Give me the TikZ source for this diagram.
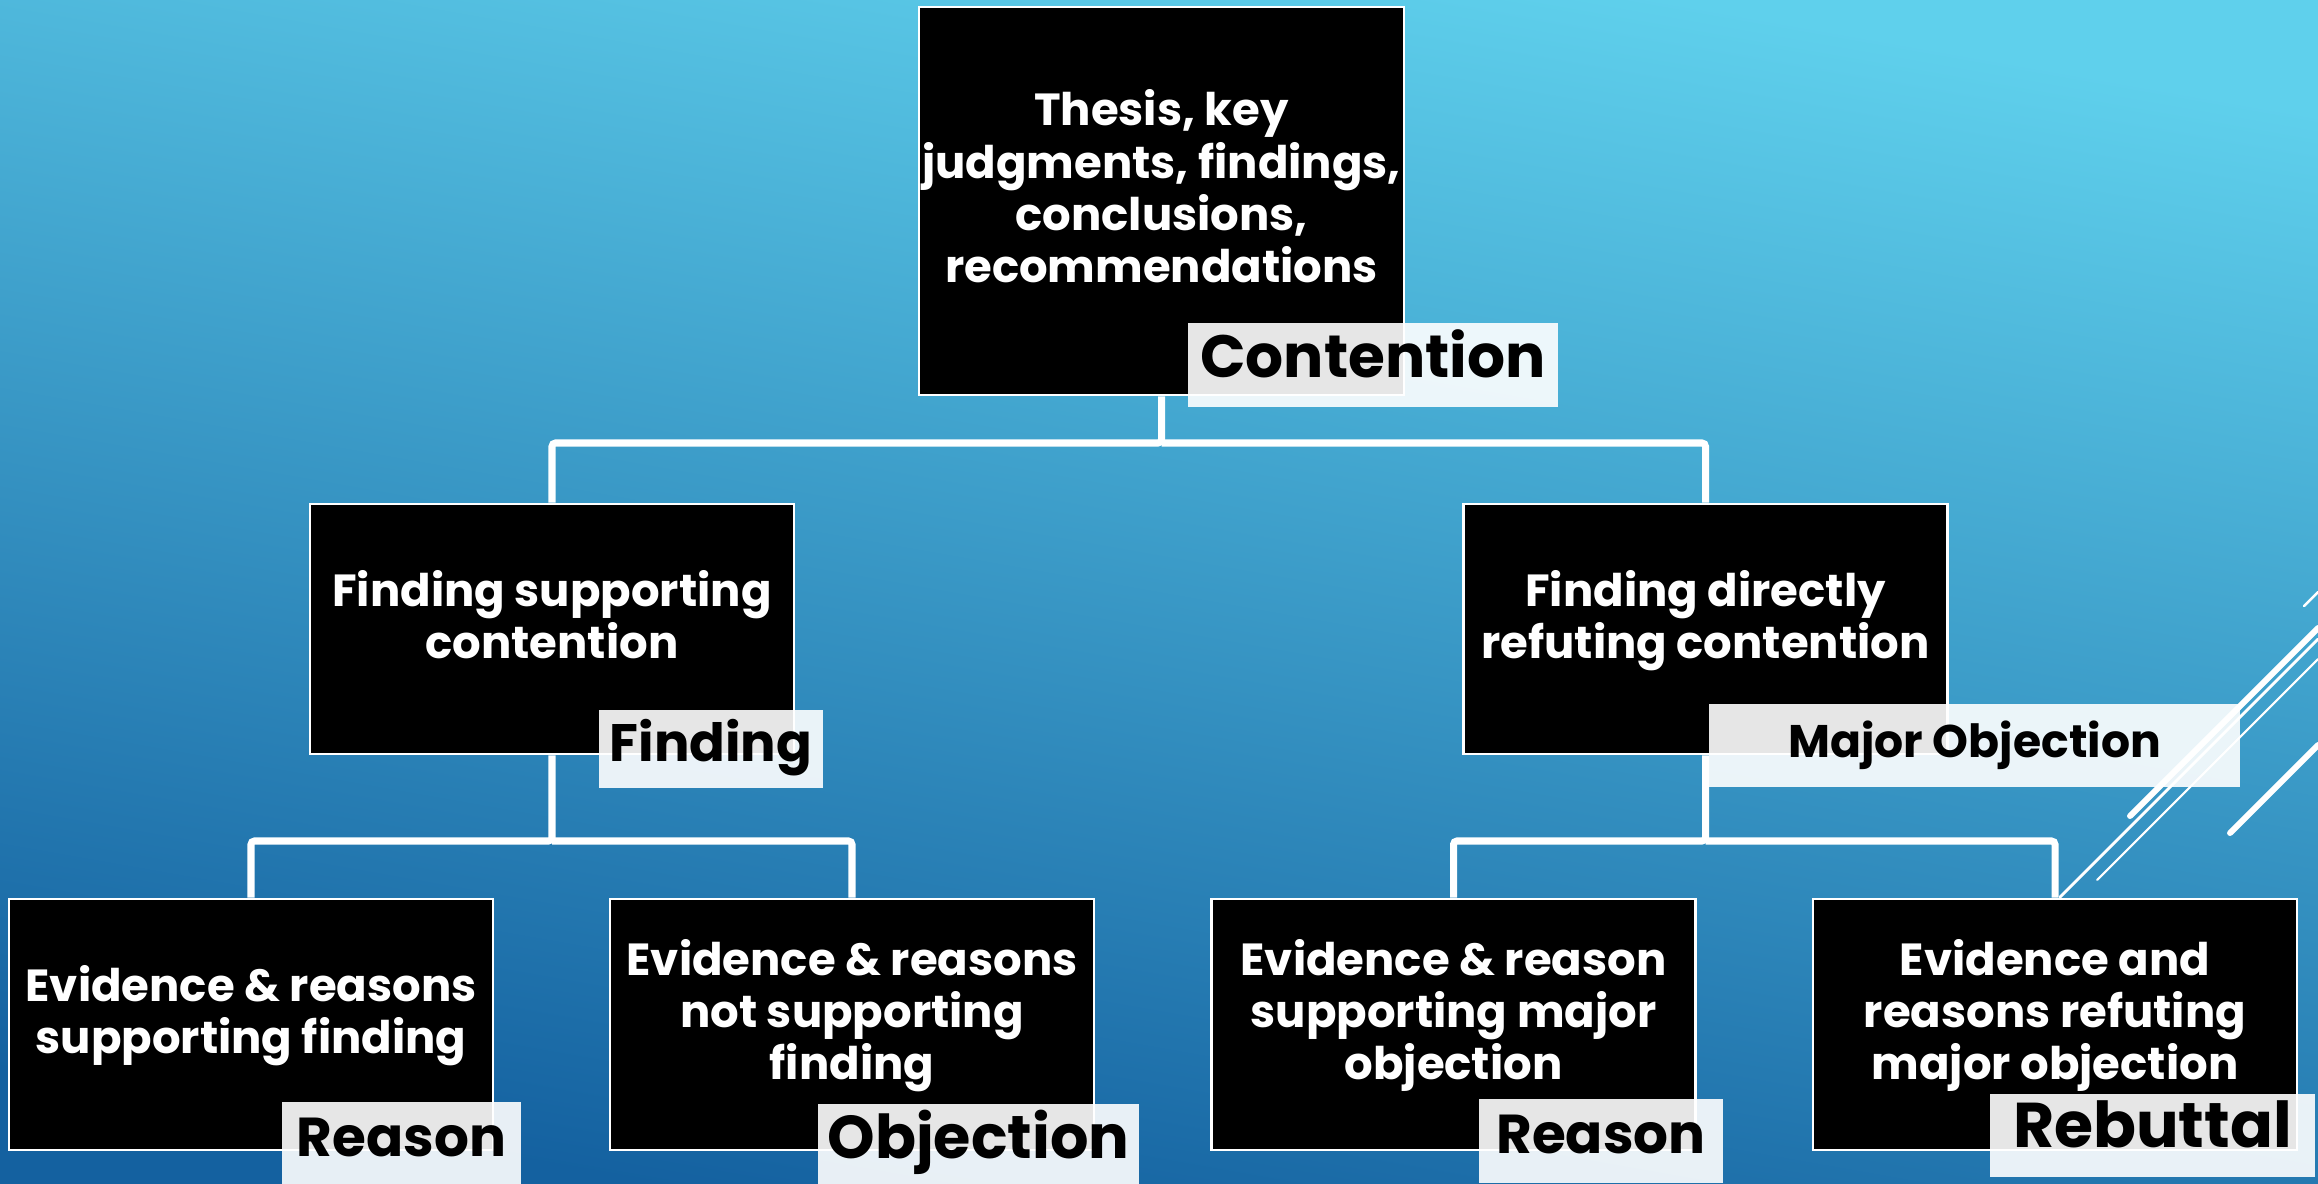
\documentclass[tikz,border=0pt]{standalone}
\usepackage{fontspec}
\setmainfont{Poppins}
\usepackage{tikz}
\usetikzlibrary{positioning, calc}
\definecolor{bgtop}{HTML}{5FD0EC}
\definecolor{bgbottom}{HTML}{1461A0}

\begin{document}
\begin{tikzpicture}[
  claim/.style={draw=white, line width=0.8pt, fill=black, text=white, align=center,
    font=\bfseries\fontsize{12.8}{14.8}\selectfont, minimum width=4.84cm, inner sep=0pt,
    execute at end node=\rule[-0.3cm]{0pt}{0pt}},
  badge/.style={fill=white, fill opacity=0.9, text opacity=1, text=black, inner sep=0pt,
    text height=0.7em, text depth=0pt, font=\bfseries\fontsize{#1}{#1}\selectfont},
  badge/.default=17,
  link/.style={white, line width=2pt, rounded corners=1pt},
  streak/.style={white, line cap=round}
]
  % Background
  \useasboundingbox (0,0) rectangle (23.18,11.83);
  \shade[top color=bgtop, bottom color=bgbottom, shading angle=-10] (0,0) rectangle (23.18,11.83);

  % Boxes
  \node[claim, minimum width=4.85cm, minimum height=3.88cm] (contention) at (11.615,9.82)
    {Thesis, key\\judgments, findings,\\conclusions,\\recommendations};
  \node[claim, minimum height=2.50cm] (finding) at (5.52,5.54)
    {Finding supporting\\contention};
  \node[claim, minimum height=2.50cm] (majorobj) at (17.055,5.54)
    {Finding directly\\refuting contention};
  \node[claim, minimum height=2.51cm] (reasonA) at (2.51,1.585)
    {Evidence \& reasons\\supporting finding};
  \node[claim, minimum height=2.51cm] (objectionA) at (8.52,1.585)
    {Evidence \& reasons\\not supporting\\finding};
  \node[claim, minimum height=2.51cm] (reasonB) at (14.535,1.585)
    {Evidence \& reason\\supporting major\\objection};
  \node[claim, minimum height=2.51cm] (rebuttal) at (20.55,1.585)
    {Evidence and\\reasons refuting\\major objection};

  % Connectors
  \coordinate (bar1) at (0,7.40);
  \coordinate (bar2) at (0,3.42);
  \draw[link] (contention.south) -- (contention.south |- bar1) -| (finding.north);
  \draw[link] (contention.south |- bar1) -| (majorobj.north);
  \draw[link] (finding.south) -- (finding.south |- bar2) -| (reasonA.north);
  \draw[link] (finding.south |- bar2) -| (objectionA.north);
  \draw[link] (majorobj.south) -- (majorobj.south |- bar2) -| (reasonB.north);
  \draw[link] (majorobj.south |- bar2) -| (rebuttal.north);

  % Role tags
  \node[badge, minimum width=3.70cm, minimum height=0.84cm] (contentiontag) at (13.73,8.18) {Contention};
  \node[badge=15, minimum width=2.24cm, minimum height=0.78cm] (findingtag) at (7.11,4.34) {Finding};
  \node[badge=13, minimum width=5.31cm, minimum height=0.83cm] (majorobjtag) at (19.745,4.375) {Major Objection};
  \node[badge=15.6, minimum width=2.39cm, minimum height=0.84cm] (reasonAtag) at (4.015,0.39) {Reason};
  \node[badge=17.2, minimum width=3.21cm, minimum height=0.84cm] (objectionAtag) at (9.785,0.37) {Objection};
  \node[badge=15.6, minimum width=2.44cm, minimum height=0.84cm] (reasonBtag) at (16.01,0.42) {Reason};
  \node[badge=18, minimum width=3.25cm, minimum height=0.83cm] (rebuttaltag) at (21.525,0.475) {Rebuttal};

  % Decorative streaks
  \draw[streak, line width=0.7pt] (23.04,5.77) -- (23.18,5.91);
  \draw[streak, line width=1.7pt] (21.30,3.67) -- (23.18,5.55);
  \draw[streak, line width=0.8pt] (20.60,2.86) -- (23.18,5.44);
  \draw[streak, line width=0.6pt] (20.97,3.03) -- (23.18,5.24);
  \draw[streak, line width=1.7pt] (22.30,3.50) -- (23.18,4.38);
\end{tikzpicture}
\end{document}
